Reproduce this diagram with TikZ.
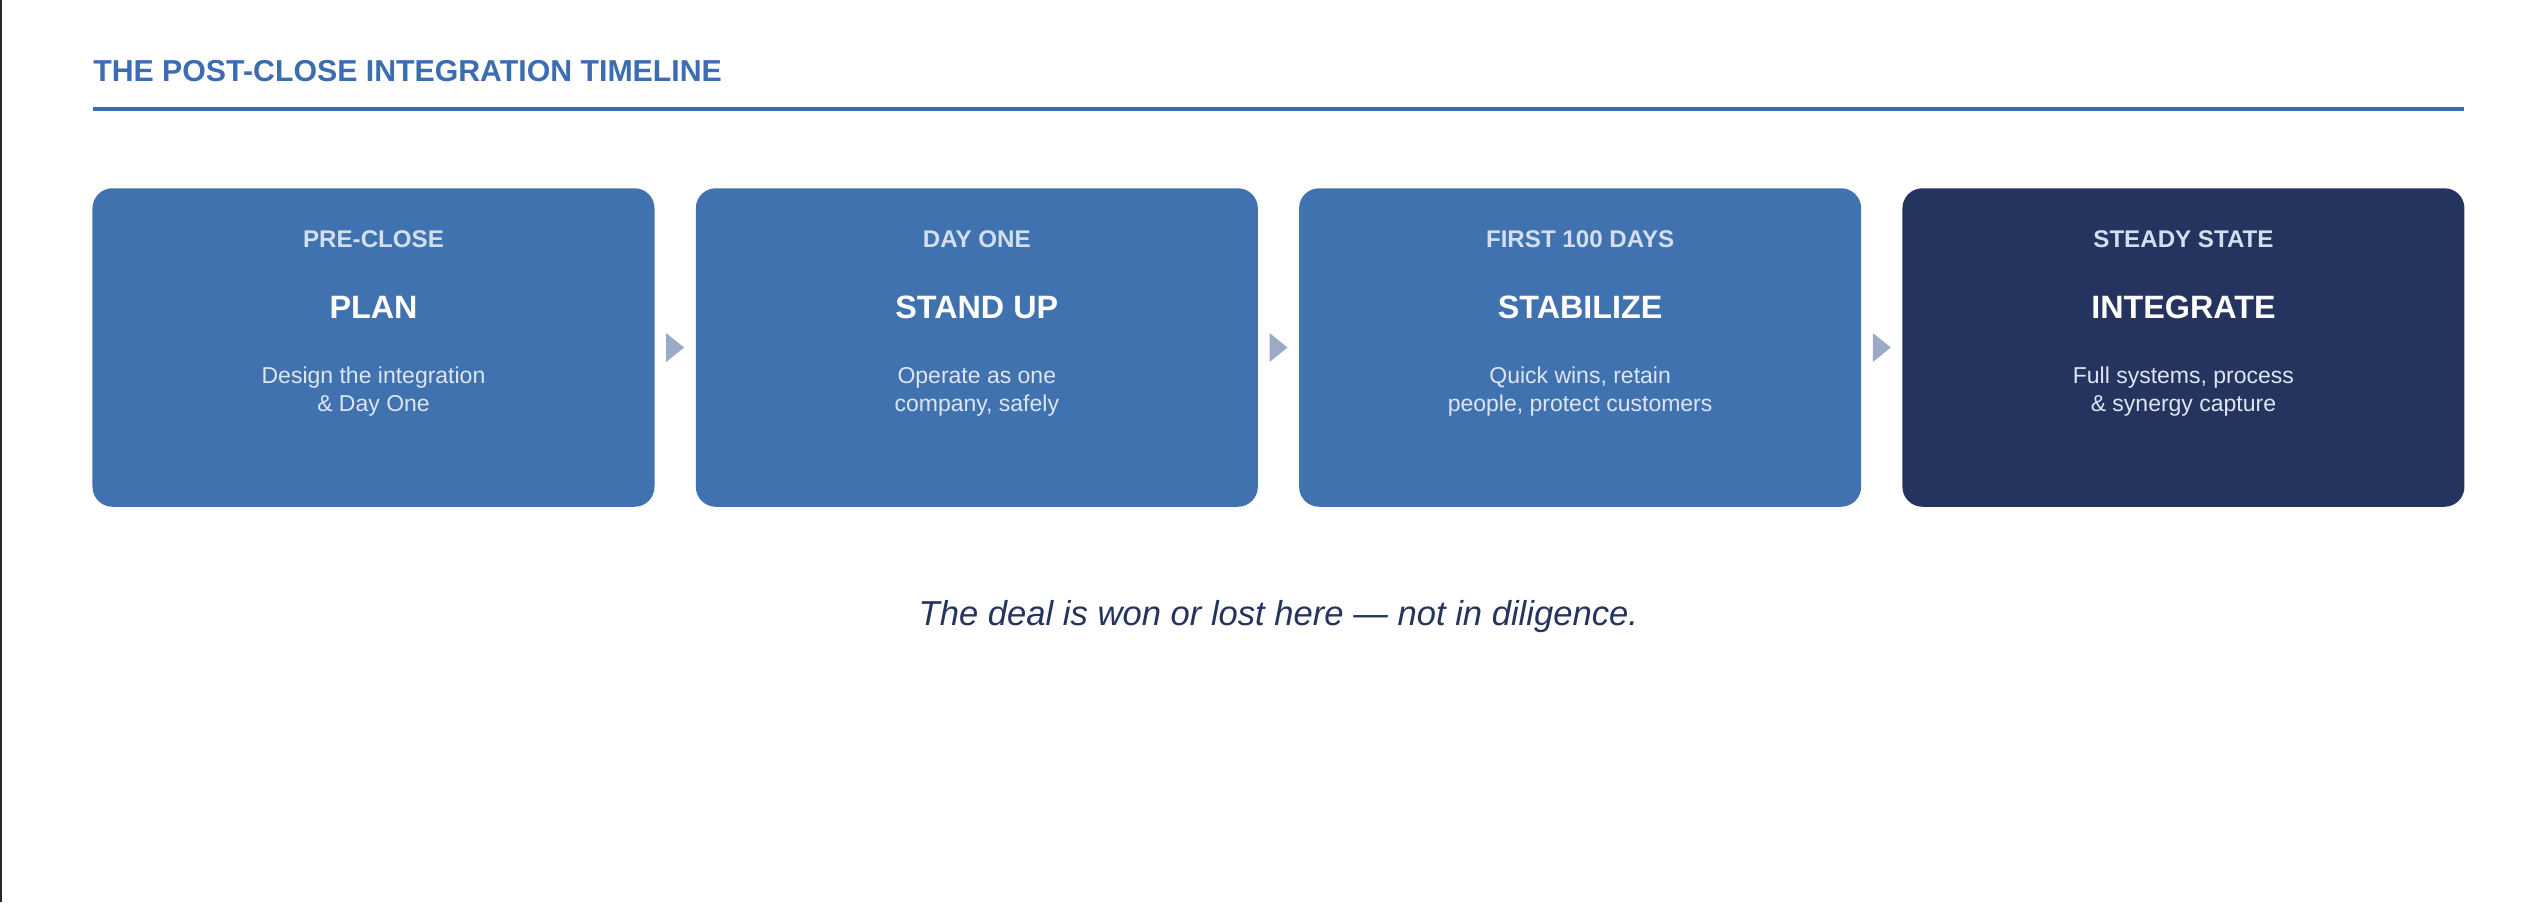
\documentclass[tikz,border=0pt]{standalone}
\usepackage{fontspec}
\setmainfont{Liberation Sans}
\usepackage{tikz}

\definecolor{midblue}{HTML}{4172B0}
\definecolor{navy}{HTML}{24345F}
\definecolor{titleblue}{HTML}{3D6DB1}
\definecolor{hdrtext}{HTML}{D3DFF0}
\definecolor{desctext}{HTML}{DCE5F2}
\definecolor{arrowgrey}{HTML}{9AAAC7}

\begin{document}
\begin{tikzpicture}[x=0.01cm,y=-0.01cm]
\tikzstyle{box}=[fill=midblue,rounded corners=0.2cm,minimum width=5.617cm,minimum height=3.183cm,inner sep=0pt];
\tikzstyle{hdr}=[text=hdrtext,font=\fontsize{6.86pt}{8pt}\selectfont\bfseries,anchor=base,inner sep=0pt];
\tikzstyle{ttl}=[text=white,font=\fontsize{9.19pt}{11pt}\selectfont\bfseries,anchor=base,inner sep=0pt];
\tikzstyle{desc}=[text=desctext,font=\fontsize{6.54pt}{7.97pt}\selectfont,align=center,anchor=north,inner sep=0pt];
\tikzstyle{tri}=[fill=arrowgrey];

\useasboundingbox (0,0) rectangle (2546,902);
\fill[white] (0,0) rectangle (2546,902);
\fill[black!85] (0,0) rectangle (2,902);

% heading
\node [anchor=base west,inner sep=0pt,text=titleblue,font=\fontsize{8.61pt}{10pt}\selectfont\bfseries] (head) at (92.6,81) {THE POST-CLOSE INTEGRATION TIMELINE};
\coordinate (r1) at (92.6,108.8);
\coordinate (r2) at (2464.2,108.8);
\draw [titleblue,line width=1.1pt] (r1) -- (r2);

% phases
\node [box] (b1) at (373.5,347.5) {};
\node [box] (b2) at (976.8,347.5) {};
\node [box] (b3) at (1580.1,347.5) {};
\node [box,fill=navy] (b4) at (2183.4,347.5) {};

\node [hdr] (h1) at (373.5,247.4) {PRE-CLOSE};
\node [ttl] (t1) at (373.5,318.6) {PLAN};
\node [desc] (d1) at (373.5,366.5) {Design the integration\\\& Day One};

\node [hdr] (h2) at (976.8,247.4) {DAY ONE};
\node [ttl] (t2) at (976.8,318.6) {STAND UP};
\node [desc] (d2) at (976.8,366.5) {Operate as one\\company, safely};

\node [hdr] (h3) at (1580.1,247.4) {FIRST 100 DAYS};
\node [ttl] (t3) at (1580.1,318.6) {STABILIZE};
\node [desc] (d3) at (1580.1,366.5) {Quick wins, retain\\people, protect customers};

\node [hdr] (h4) at (2183.4,247.4) {STEADY STATE};
\node [ttl] (t4) at (2183.4,318.6) {INTEGRATE};
\node [desc] (d4) at (2183.4,366.5) {Full systems, process\\\& synergy capture};

% arrows between phases
\fill [tri] (666.1,333) -- (684.1,347.5) -- (666.1,362) -- cycle;
\fill [tri] (1269.5,333) -- (1287.5,347.5) -- (1269.5,362) -- cycle;
\fill [tri] (1872.8,333) -- (1890.8,347.5) -- (1872.8,362) -- cycle;

\node [anchor=base,inner sep=0pt,text=navy,font=\fontsize{9.84pt}{12pt}\selectfont\itshape] (tag) at (1278.4,625) {The deal is won or lost here --- not in diligence.};
\end{tikzpicture}
\end{document}
